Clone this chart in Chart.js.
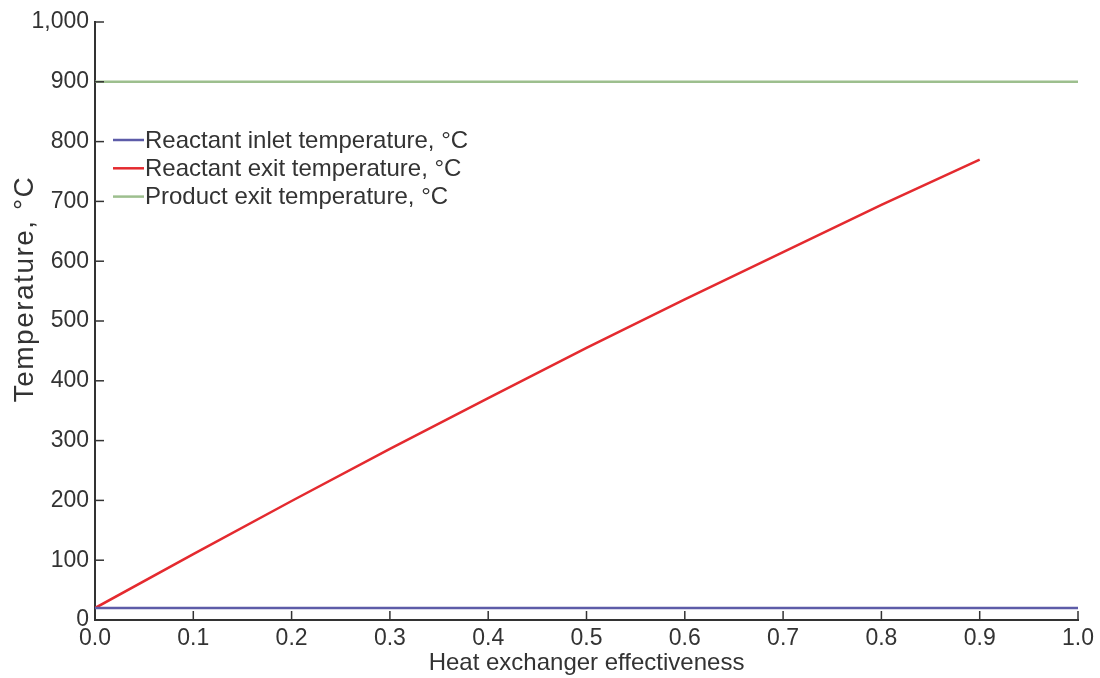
<!DOCTYPE html>
<html>
<head>
<meta charset="utf-8">
<script src="https://cdn.jsdelivr.net/npm/chart.js@4.4.1/dist/chart.umd.min.js"></script>
<style>
  body { margin: 0; background: #fff; }
  #wrap { width: 1100px; height: 678px; }
</style>
</head>
<body>
<div id="wrap"><canvas id="myChart" width="1100" height="678"></canvas></div>
<script>
// data
const effectiveness = [0.0, 0.1, 0.2, 0.3, 0.4, 0.5, 0.6, 0.7, 0.8, 0.9, 1.0];
const inletTemp = [20, 20, 20, 20, 20, 20, 20, 20, 20, 20, 20];
const exitTemp = [20, 110, 199, 286, 371, 455, 536, 615, 694, 770, null];
const productTemp = [900, 900, 900, 900, 900, 900, 900, 900, 900, 900, 900];
const seriesNames = ['Reactant inlet temperature, °C', 'Reactant exit temperature, °C', 'Product exit temperature, °C'];
const seriesColors = ['#5d5ca8', '#e42a2f', '#9dbf8e'];
const yTitle = 'Temperature, °C';

const fontFam = 'Arial, "Liberation Sans", Helvetica, sans-serif';
const textColor = '#333333';

function toPoints(arr) {
    return effectiveness.map((x, i) => ({ x: x, y: arr[i] }));
}

// ticks pointing into the plot + y title
const innerTicks = {
    id: 'innerTicks',
    afterDraw(chart) {
        const c = chart.ctx;
        const xs = chart.scales.x, ys = chart.scales.y;
        c.save();
        c.strokeStyle = textColor;
        c.lineWidth = 1.5;
        xs.ticks.forEach(t => {
            const px = xs.getPixelForValue(t.value);
            c.beginPath(); c.moveTo(px, ys.bottom); c.lineTo(px, ys.bottom - 9); c.stroke();
        });
        ys.ticks.forEach(t => {
            const py = ys.getPixelForValue(t.value);
            c.beginPath(); c.moveTo(xs.left, py); c.lineTo(xs.left + 9, py); c.stroke();
        });
        // y axis title, a bit above the middle and wider set, like the original
        c.translate(33, 289);
        c.rotate(-Math.PI / 2);
        c.font = '28px ' + fontFam;
        c.letterSpacing = '1.5px';
        c.fillStyle = textColor;
        c.textAlign = 'center';
        c.textBaseline = 'alphabetic';
        c.fillText(yTitle, 0, 0);
        c.restore();
    }
};

// legend inside the plot, top left
const innerLegend = {
    id: 'innerLegend',
    afterDraw(chart) {
        const c = chart.ctx;
        c.save();
        c.font = '24px ' + fontFam;
        c.textBaseline = 'middle';
        seriesNames.forEach((name, i) => {
            const y = 140 + i * 28.3;
            c.strokeStyle = seriesColors[i];
            c.lineWidth = 2.5;
            c.beginPath(); c.moveTo(113, y); c.lineTo(144, y); c.stroke();
            c.fillStyle = textColor;
            c.fillText(name, 145, y + 1);
        });
        c.restore();
    }
};

const ctx = document.getElementById('myChart').getContext('2d');
const myChart = new Chart(ctx, {
    type: 'line',
    data: {
        datasets: [
            { label: seriesNames[0], data: toPoints(inletTemp), borderColor: seriesColors[0], borderWidth: 2.5, pointRadius: 0 },
            { label: seriesNames[1], data: toPoints(exitTemp), borderColor: seriesColors[1], borderWidth: 2.5, pointRadius: 0 },
            { label: seriesNames[2], data: toPoints(productTemp), borderColor: seriesColors[2], borderWidth: 2.5, pointRadius: 0 }
        ]
    },
    options: {
        responsive: false,
        animation: false,
        layout: { padding: { top: 22, right: 22, left: 0, bottom: 0 } },
        plugins: { legend: { display: false }, tooltip: { enabled: false } },
        scales: {
            x: {
                type: 'linear',
                min: 0, max: 1,
                grid: { display: false, drawTicks: false },
                border: { display: true, color: textColor, width: 2 },
                ticks: {
                    stepSize: 0.1, padding: 5, color: textColor,
                    font: { size: 23, family: fontFam },
                    maxRotation: 0, autoSkip: false,
                    callback: v => Number(v).toFixed(1)
                },
                title: { display: true, text: 'Heat exchanger effectiveness', color: textColor, font: { size: 24, family: fontFam }, padding: { top: 0, bottom: 0 } },
                afterFit: s => { s.height = 58; }
            },
            y: {
                min: 0, max: 1000,
                grid: { display: false, drawTicks: false },
                border: { display: true, color: textColor, width: 2 },
                ticks: {
                    stepSize: 100, padding: 6, color: textColor,
                    font: { size: 23, family: fontFam },
                    callback: v => Number(v).toLocaleString('en-US')
                },
                afterFit: s => { s.width = 95; }
            }
        }
    },
    plugins: [innerTicks, innerLegend]
});
</script>
</body>
</html>
